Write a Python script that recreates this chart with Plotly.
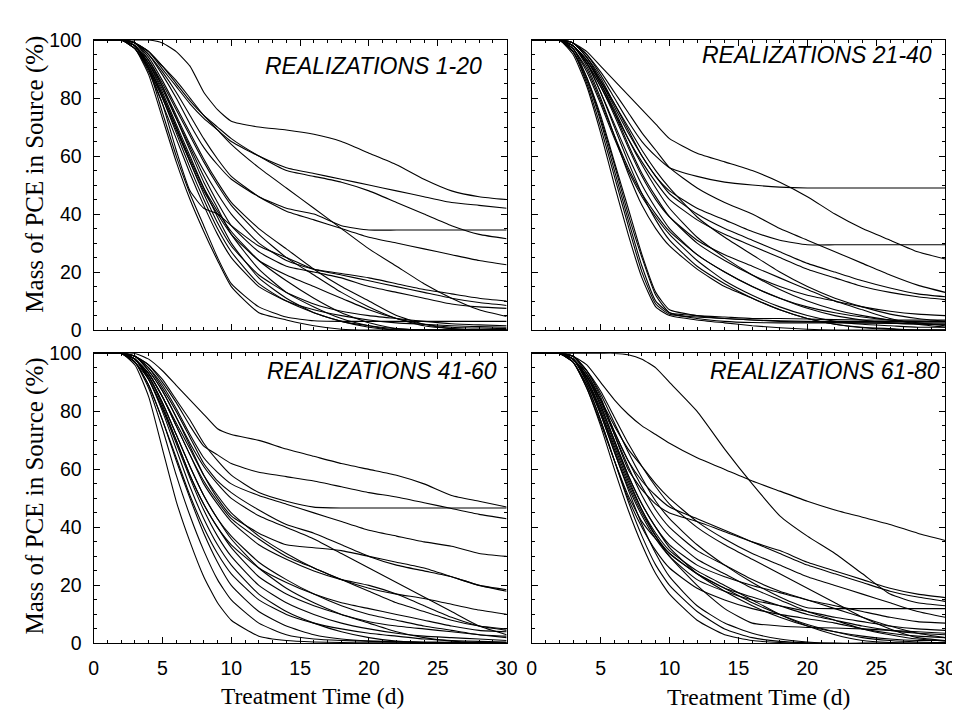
import plotly.graph_objects as go

# Treatment time (d) sampling grid used for every realization
T = [0, 2, 3, 4, 5, 6, 7, 8, 9, 10, 12, 14, 16, 18, 20, 22, 24, 26, 28, 30]

# Mass of PCE in source (%) - realizations 1-20
R1_20 = [
    [100,100,100,100,99,96,91,82,76,72,70,69,67.5,65,61,57,52,48,46,45],
    [100,100,99,96,90,84,78,73,69,65,60,56,54,52,50,48,46,44,43,42],
    [100,100,99,95,88,80,71,63,57,52,46,42,40,36,34.5,34.5,34.5,34.5,34.5,34.5],
    [100,100,99,96,91,85,79,74,70,66,60,55,53,51,48,44,40,36,33,31.5],
    [100,100,99,95,89,82,74,66,59,53,46,41,38,35,32,30,28,26,24,22.5],
    [100,100,98,92,84,74,64,55,47,40,30,24,21,19.5,18,16,14,12.5,11,10],
    [100,100,98,90,78,62,48,42,40,36,29,25,21,19,17,15,13,11,9.5,8.5],
    [100,100,98,92,83,73,63,53,44,36,27,22,20,18,15,13,11,9,8,7.5],
    [100,100,97,90,80,69,58,48,40,33,24,19,15,11,7,4,2,1,0.7,0.5],
    [100,100,98,91,81,70,58,47,37,29,19,13,9,6.5,5,4,3,2.2,1.8,1.5],
    [100,100,97,89,78,66,54,43,33,25,15,10,7,5,3.5,2.5,2,1.5,1.2,1],
    [100,100,97,88,73,58,45,34,24,15,6,3.5,1.5,0.3,0,0,0,0,0,0],
    [100,100,98,90,75,60,47,36,25,16,8,4.5,3.2,3,3,3,3,3,3,3],
    [100,100,98,92,82,71,60,49,39,30,18,11,6,3,1.5,0.5,0,0,0,0],
    [100,100,97,90,80,68,56,45,35,27,16,10,6,3,1,0,0,0,0,0],
    [100,100,98,91,81,70,59,49,41,34,24,17,11,6,2.5,0.5,0,0,0,0],
    [100,100,98,93,85,76,67,58,50,43,33,25,19,13,8,4,1.5,0.5,0,0],
    [100,100,99,94,86,77,68,59,51,44,35,28,21,15,10,5,2,0.5,0,0],
    [100,100,99,93,84,73,62,51,42,33,21,13,8,4,1.5,0,0,0,0,0],
    [100,100,99,96,91,86,80,74,69,64,56,49,42,35,28,22,16,11,7,4.7],
]

# Realizations 21-40
R21_40 = [
    [100,100,99,96,91,86,81,76,71,66,61,58,55,51,46,40,35,31,27,24.5],
    [100,100,99,95,88,80,72,65,60,56,53,51,50,49.3,49,49,49,49,49,49],
    [100,100,99,94,86,77,68,60,53,48,42,38,34,31,29.4,29.4,29.4,29.4,29.4,29.4],
    [100,100,99,95,89,82,75,68,62,56,49,44,40,35,31,27,23,19,15.5,13],
    [100,100,98,93,86,78,69,60,53,47,40,35,31,27,23,20,17,14.5,12.5,11.5],
    [100,100,98,92,84,75,66,58,51,45,38,33,29,25,21,18,15,13,11.5,10.5],
    [100,100,98,93,85,75,64,54,46,39,30,24,19,15,12,10,8,6.5,5.5,5],
    [100,100,98,92,82,71,60,50,42,35,26,20,15,11,8,6,4.5,3.5,3,3],
    [100,100,97,90,79,67,56,47,40,34,26,20,15,11,7.5,5,3.5,2.5,2,2],
    [100,100,97,89,78,66,55,46,39,33,24,17,12,8,5,3,2,1.5,1,1],
    [100,100,96,86,72,55,38,22,10,6,5,4.5,4,4,3.8,3.6,3.5,3.5,3.5,3.5],
    [100,100,96,85,70,53,36,20,9,5.5,4.5,4,3.5,3,2.8,2.6,2.5,2.3,2.2,2],
    [100,100,95,84,68,50,33,18,8,5,3.5,2.5,1.5,0.8,0.3,0,0,0,0,0],
    [100,100,97,87,74,58,42,26,13,7,5,4,3.5,3.2,3,3,3,3,3,3],
    [100,100,96,87,73,57,40,25,12,6,4,3,2.6,2.5,2.5,2.5,2.5,2.5,2.5,2.5],
    [100,100,98,91,80,67,54,43,35,29,21,15,11,7,4,2,1,0.5,0,0],
    [100,100,98,92,82,70,58,47,38,31,22,16,11,7,4,2,0.8,0.3,0,0],
    [100,100,98,93,85,76,66,57,49,42,32,25,19,14,10,7,5,3.5,2.5,1.5],
    [100,100,99,94,87,78,70,62,55,49,39,32,26,20,15,11,8,5.5,4,3],
    [100,100,98,92,84,74,63,53,45,39,31,26,22,18,14,10,7,4,2,1],
]

# Realizations 41-60
R41_60 = [
    [100,100,100,98,94,89,84,79,74,72,70,67,64.5,62,60,58,55,51,49,47],
    [100,100,99,96,91,84,77,69,63,58,52,49,47,46.7,46.7,46.7,46.7,46.7,46.7,46.7],
    [100,100,99,96,90,83,75,68,65,62,59,57.5,56,54,52,50.5,48.5,46.5,44.5,43],
    [100,100,99,95,89,81,72,64,59,55,51,48,45,42,39,37,35,33.5,31,30],
    [100,100,99,95,88,80,71,62,56,52,46,41,38,34,30,27,25,23,20,18.5],
    [100,100,99,94,87,78,68,58,50,44,38,34,33,32,30,28,26,23,20,18],
    [100,100,98,93,85,75,65,56,49,43,36,30,26,22,19,17,15.5,13.5,11.5,10],
    [100,100,98,93,85,75,65,55,48,42,34,29,25,22,20,17,13,9,6,4.5],
    [100,100,98,92,83,72,61,51,43,37,28,22,17,13,10,8,6,4.5,3,2.5],
    [100,100,97,91,81,70,58,48,40,33,23,17,13,10,7.5,6,5,4,3,2],
    [100,100,98,91,81,69,57,46,37,30,20,14,10,7,5,3.5,2.5,2,1.5,1],
    [100,100,97,89,77,64,51,40,31,24,15,10,7,5,3.5,2.5,1.5,1,0.7,0.5],
    [100,100,96,85,67,49,35,23,14,8,2.5,1,0.5,0.3,0.2,0.2,0.2,0.2,0.2,0.2],
    [100,100,97,88,74,58,44,32,22,15,7,3,1.5,1,0.8,0.6,0.5,0.4,0.3,0.3],
    [100,100,97,89,77,63,50,38,28,20,11,6,3,1.5,0.8,0.5,0.3,0.2,0.2,0.2],
    [100,100,98,91,80,67,54,43,34,27,17,11,7,4,2,0.8,0.3,0,0,0],
    [100,100,98,92,83,72,61,51,43,36,26,19,14,10,7,4,2,0.8,0.3,0],
    [100,100,98,92,82,70,58,48,40,34,26,21,17,14,12,10,8,6,4.5,4],
    [100,100,99,94,87,78,69,61,55,50,44,40,36,31,26,21,16,11,6,3],
    [100,100,98,93,85,76,67,58,51,45,37,31,26,22,18,14,11,8,6,5],
]

# Realizations 61-80
R61_80 = [
    [100,100,100,100,100,100,99.5,98,95,90,80,67,55,44,37,31,24,17,14,13],
    [100,100,99,96,90,84,79,75,72,69,64,60,56,52.5,49,46,43.5,41,38,35.5],
    [100,100,99,94,85,72,60,53,48,45,42,38.5,35,32,28,25,22,19,17,15.8],
    [100,100,99,93,84,73,63,56,51,47,43,39,35,31,27,24,21,18,16,14.5],
    [100,100,99,94,86,76,66,57,49,43,34,27,21,16,12.3,12,12,12,12,12],
    [100,100,98,92,82,70,58,48,40,34,27,23,20,17.5,15,13,11,9,7.5,7],
    [100,100,98,90,79,66,54,44,36,30,22,18,15,13,11,9,7.5,6,5,4.5],
    [100,100,98,91,80,67,55,45,37,31,24,19,16,13,10,8,6,4.5,3.5,3],
    [100,100,97,89,77,63,50,40,32,26,19,15,12,10,8.5,7,5,3.5,2.5,2],
    [100,100,98,92,82,70,58,48,40,33,24,18,13,9,6,4,2.5,1.5,1,1],
    [100,100,97,88,75,60,46,34,24,17,8,3,1,0.3,0,0,0,0,0,0],
    [100,100,97,89,77,63,49,37,27,20,11,5,2,0.7,0.2,0,0,0,0,0],
    [100,100,98,90,79,66,53,41,31,23,13,7,3.5,1.5,0.5,0,0,0,0,0],
    [100,100,98,91,81,69,57,46,37,30,20,12,7,6,5.5,5.3,5,4.5,4,3.5],
    [100,100,98,92,83,72,61,51,43,37,29,24,19,15,11,8,5,3,1.5,0.8],
    [100,100,98,93,84,73,63,54,46,40,32,27,22,18,15,12,9,6,3.5,2],
    [100,100,99,94,87,78,69,61,54,48,40,34,29,24,19,14,9,5,2,1],
    [100,100,98,91,80,68,56,46,38,32,25,20,15,10,6,3,1,0.3,0,0],
    [100,100,97,88,76,63,51,42,36,31,24,19,14,10,6.5,4,2,1,0.5,0.3],
    [100,100,98,92,84,75,67,61,55,50,42,36,31,27,23,20,17,14,11,9],
]

PANEL_LABELS = ["REALIZATIONS 1-20", "REALIZATIONS 21-40",
                "REALIZATIONS 41-60", "REALIZATIONS 61-80"]
X_TITLE = "Treatment Time (d)"
Y_TITLE = "Mass of PCE in Source (%)"
X_TICKS = [0, 5, 10, 15, 20, 25, 30]
Y_TICKS = [0, 20, 40, 60, 80, 100]

W, H = 960, 713
panels = [R1_20, R21_40, R41_60, R61_80]
axis_ids = [("x", "y"), ("x2", "y2"), ("x3", "y3"), ("x4", "y4")]

fig = go.Figure()
for data, (xa, ya) in zip(panels, axis_ids):
    for curve in data:
        fig.add_trace(go.Scatter(
            x=T, y=curve, xaxis=xa, yaxis=ya, mode="lines",
            line=dict(color="black", width=1.1, shape="spline", smoothing=0.5),
            showlegend=False, hoverinfo="skip"))

def px_x(p):
    return p / W

def px_y(p):
    return 1 - p / H

xdom_left = [px_x(82), px_x(502)]
xdom_right = [px_x(527.5), px_x(948)]
ydom_top = [px_y(321), px_y(21.7)]
ydom_bot = [px_y(644.3), px_y(345)]

tickfont = dict(family="Liberation Sans, Arial, Helvetica, sans-serif", size=19.5, color="black")

def xaxis(domain, anchor, labels):
    return dict(domain=domain, anchor=anchor, range=[0, 30], showgrid=False,
                zeroline=False, showline=True, linecolor="black", linewidth=1,
                mirror="ticks", ticks="inside", ticklen=6, tickwidth=1,
                tickcolor="black", tickvals=X_TICKS, showticklabels=labels,
                tickfont=tickfont, ticklabelstandoff=7,
                minor=dict(dtick=1, tick0=0, ticks="inside", ticklen=3,
                           tickwidth=1, tickcolor="black", showgrid=False))

def yaxis(domain, anchor, labels):
    return dict(domain=domain, anchor=anchor, range=[0, 100], showgrid=False,
                zeroline=False, showline=True, linecolor="black", linewidth=1,
                mirror="ticks", ticks="inside", ticklen=6, tickwidth=1,
                tickcolor="black", tickvals=Y_TICKS, showticklabels=labels,
                tickfont=tickfont, ticklabelstandoff=7,
                minor=dict(dtick=5, tick0=0, ticks="inside", ticklen=3,
                           tickwidth=1, tickcolor="black", showgrid=False))

annotations = []
label_pos = [(479, 48), (937, 37), (494, 363), (945, 363)]
for text, (ax, ay) in zip(PANEL_LABELS, label_pos):
    annotations.append(dict(
        text=text, xref="paper", yref="paper", x=px_x(ax), y=px_y(ay),
        xanchor="right", yanchor="middle", showarrow=False,
        font=dict(family="Liberation Sans, Arial, Helvetica, sans-serif",
                  size=23, color="black", style="italic")))

serif_y = dict(family="Liberation Serif, Times New Roman, serif", size=25, color="black")
serif_x = dict(family="Liberation Serif, Times New Roman, serif", size=23.5, color="black")
for cy in (160, 492):
    annotations.append(dict(text=Y_TITLE, xref="paper", yref="paper",
                            x=px_x(22), y=px_y(cy), xanchor="center", yanchor="middle",
                            textangle=-90, showarrow=False, font=serif_y))
for cx, cy in ((305, 699), (758, 700)):
    annotations.append(dict(text=X_TITLE, xref="paper", yref="paper",
                            x=px_x(cx), y=px_y(cy), xanchor="center", yanchor="middle",
                            showarrow=False, font=serif_x))

fig.update_layout(
    width=W, height=H, margin=dict(l=0, r=0, t=0, b=0),
    paper_bgcolor="white", plot_bgcolor="white", showlegend=False,
    xaxis=xaxis(xdom_left, "y", False), yaxis=yaxis(ydom_top, "x", True),
    xaxis2=xaxis(xdom_right, "y2", False), yaxis2=yaxis(ydom_top, "x2", False),
    xaxis3=xaxis(xdom_left, "y3", True), yaxis3=yaxis(ydom_bot, "x3", True),
    xaxis4=xaxis(xdom_right, "y4", True), yaxis4=yaxis(ydom_bot, "x4", False),
    annotations=annotations,
)

fig.write_html("out.html")
